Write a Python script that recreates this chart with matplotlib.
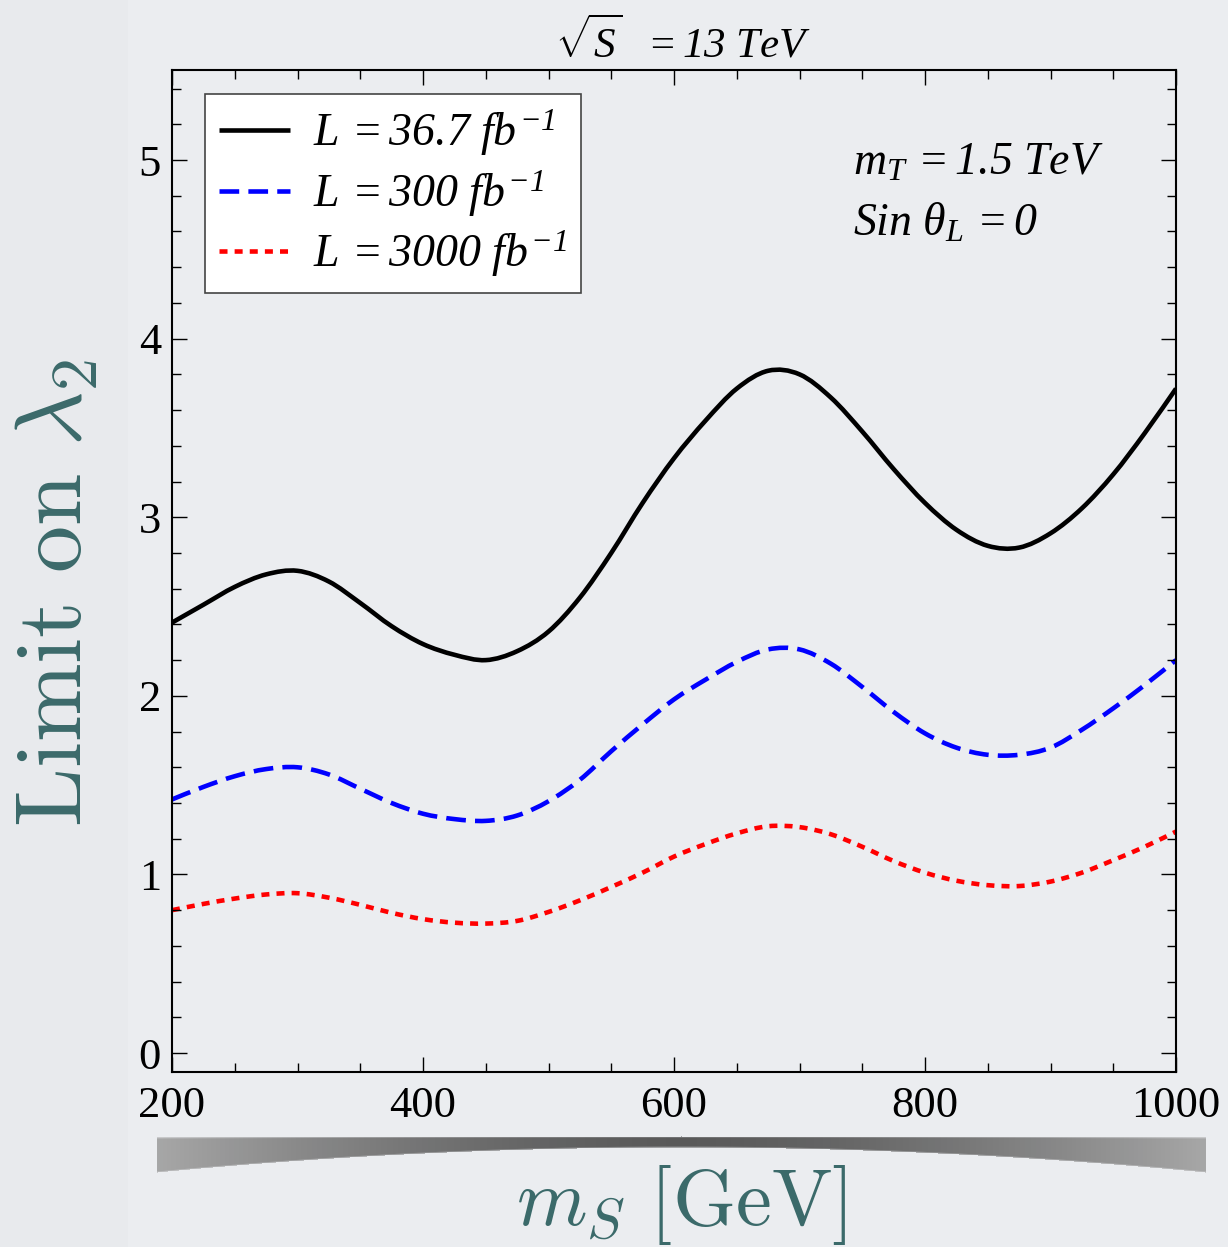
import numpy as np
import matplotlib
matplotlib.use("Agg")
import matplotlib.pyplot as plt
from matplotlib.ticker import MultipleLocator
from matplotlib.path import Path
from matplotlib.patches import PathPatch
from matplotlib.lines import Line2D

plt.rcParams['mathtext.fontset'] = 'custom'
plt.rcParams['mathtext.rm'] = 'Liberation Serif:italic'
plt.rcParams['mathtext.it'] = 'Liberation Serif:italic'
plt.rcParams['mathtext.bf'] = 'Liberation Serif:italic:bold'
plt.rcParams['font.family'] = ['Liberation Serif', 'DejaVu Serif']

# ---- data ----
m_S = [200, 225, 250, 275, 300, 325, 350, 375, 400, 425, 450, 475, 500, 525,
       550, 575, 600, 625, 650, 675, 700, 725, 750, 775, 800, 825, 850, 875,
       900, 925, 950, 975, 1000]
lim_36 = [2.41, 2.51, 2.61, 2.68, 2.70, 2.64, 2.52, 2.39, 2.29, 2.23, 2.20, 2.25,
          2.36, 2.55, 2.80, 3.08, 3.33, 3.54, 3.72, 3.82, 3.80, 3.67, 3.48, 3.27,
          3.08, 2.93, 2.84, 2.83, 2.91, 3.05, 3.24, 3.47, 3.72]
lim_300 = [1.42, 1.49, 1.55, 1.59, 1.60, 1.56, 1.48, 1.40, 1.34, 1.31, 1.30, 1.33,
           1.41, 1.53, 1.69, 1.84, 1.98, 2.09, 2.19, 2.26, 2.26, 2.18, 2.05, 1.91,
           1.79, 1.71, 1.67, 1.67, 1.71, 1.81, 1.93, 2.06, 2.20]
lim_3000 = [0.80, 0.835, 0.865, 0.888, 0.895, 0.87, 0.83, 0.785, 0.75, 0.73, 0.725, 0.74,
            0.79, 0.855, 0.93, 1.01, 1.10, 1.17, 1.23, 1.27, 1.265, 1.225, 1.155, 1.075,
            1.01, 0.965, 0.94, 0.935, 0.96, 1.01, 1.08, 1.155, 1.24]
labels = [r"$L\,=36.7\ fb^{{-}1}$", r"$L\,=300\ fb^{{-}1}$", r"$L\,=3000\ fb^{{-}1}$"]
xticks = [200, 400, 600, 800, 1000]
yticks = [0, 1, 2, 3, 4, 5]


def smooth_path(x, y):
    """Bezier path (Catmull-Rom control points) passing through the data points."""
    P = np.column_stack([x, y]).astype(float)
    Pe = np.vstack([P[0], P, P[-1]])
    verts = [P[0]]
    codes = [Path.MOVETO]
    for i in range(len(P) - 1):
        p0, p1, p2, p3 = Pe[i], Pe[i + 1], Pe[i + 2], Pe[i + 3]
        c1 = p1 + (p2 - p0) / 6.0
        c2 = p2 - (p3 - p1) / 6.0
        verts += [c1, c2, p2]
        codes += [Path.CURVE4] * 3
    return Path(verts, codes)


W, H = 1228, 1247
fig = plt.figure(figsize=(W / 100, H / 100), dpi=100)
fig.patch.set_facecolor('#eceef2')

# background (slide-like)
bg = fig.add_axes([0, 0, 1, 1], zorder=-10)
bg.axis('off')
img = np.ones((H, W, 3)) * np.array([0.925, 0.933, 0.945])
img[:, :128, :] = np.array([0.910, 0.919, 0.932])
bg.imshow(img, extent=[0, W, H, 0], aspect='auto')

# smudge below the axis (decoration)
sx = np.arange(W)
sy = np.arange(H)[:, None]
t = np.clip((sx - 681) / 524.0, -1.2, 1.2)
top = 1136 + 1 * t ** 2
bot = 1147 + 25 * t ** 2
inside = (sy >= top) & (sy <= bot) & (sx >= 157) & (sx <= 1205)
soft = np.clip(np.minimum(sy - top + 1.5, bot - sy + 1.5) / 3.0, 0, 1)
shade = 0.32 + 0.32 * np.abs(t) ** 1.5
rgba = np.zeros((H, W, 4))
rgba[..., 0] = shade
rgba[..., 1] = shade
rgba[..., 2] = shade
rgba[..., 3] = np.where(inside, soft, 0) * 0.95
bg.imshow(rgba, extent=[0, W, H, 0], aspect='auto')
bg.set_xlim(0, W)
bg.set_ylim(H, 0)

ax = fig.add_axes([172 / W, 1 - 1072 / H, (1176 - 172) / W, (1072 - 70) / H])
ax.patch.set_alpha(0)

lw = 3.3
styles = [dict(color='black', linestyle='-'),
          dict(color='#0000ff', linestyle=(0, (4.3, 2.0))),
          dict(color='#ff0000', linestyle=(0, (1.75, 1.55)))]
handles = []
for ys, st in zip([lim_36, lim_300, lim_3000], styles):
    ax.add_patch(PathPatch(smooth_path(m_S, ys), fill=False, lw=lw,
                           capstyle='butt', joinstyle='round', **st))
    handles.append(Line2D([], [], lw=lw, solid_capstyle='butt',
                          dash_capstyle='butt', **st))

ax.set_xlim(200, 1000)
ax.set_ylim(-0.106, 5.504)
ax.set_xticks(xticks)
ax.set_yticks(yticks)
ax.xaxis.set_minor_locator(MultipleLocator(50))
ax.yaxis.set_minor_locator(MultipleLocator(0.2))
ax.tick_params(which='both', direction='in', top=True, right=True, width=1.0,
               colors='black', labelsize=32)
ax.tick_params(which='major', length=11)
ax.tick_params(which='minor', length=6.5)
ax.tick_params(axis='x', pad=10)
ax.tick_params(axis='y', pad=8)
for s in ax.spines.values():
    s.set_linewidth(1.5)

leg = ax.legend(handles, labels, loc='upper left', bbox_to_anchor=(0.033, 0.976),
                borderaxespad=0, fontsize=33, frameon=True, fancybox=False,
                edgecolor='#444444', facecolor='white', framealpha=1,
                handlelength=1.55, handletextpad=0.5, labelspacing=0.22,
                borderpad=0.3)
leg.get_frame().set_linewidth(1.2)

ax.text(0.678, 0.907, r"$m_T\,=1.5\ TeV$", transform=ax.transAxes, fontsize=33,
        va='center', ha='left')
ax.text(0.678, 0.846, r"$Sin\ \theta_L\,=0$", transform=ax.transAxes, fontsize=33,
        va='center', ha='left')

fig.text(683 / W, 1 - 42 / H, r"$\sqrt{S}\ \ =13\ TeV$", fontsize=31,
         ha='center', va='center')

teal = '#3b6a6a'
fig.text(59 / W, 1 - 593 / H, r"$\mathrm{Limit\ on}\ \lambda_2$", rotation=90,
         fontsize=68, color=teal, ha='center', va='center', math_fontfamily='cm')
fig.text(681 / W, 1 - 1205 / H, r"$m_S\ [\mathrm{GeV}]$", fontsize=58, color=teal,
         ha='center', va='center', math_fontfamily='cm')

fig.savefig('out.png', dpi=100, facecolor=fig.get_facecolor())
